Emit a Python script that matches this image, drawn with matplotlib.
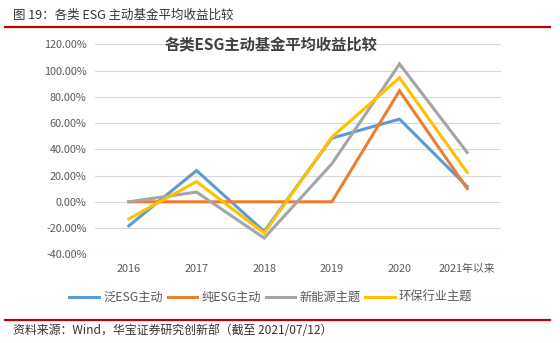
import matplotlib
matplotlib.use("Agg")
import matplotlib.pyplot as plt
from matplotlib.lines import Line2D

plt.rcParams['font.family'] = ['Noto Sans CJK SC', 'DejaVu Sans']

categories = ["2016", "2017", "2018", "2019", "2020", "2021年以来"]
series_names = ["泛ESG主动", "纯ESG主动", "新能源主题", "环保行业主题"]
fan_esg = [-18.3, 23.8, -22.6, 48.5, 63.0, 11.6]
chun_esg = [0.0, 0.0, 0.0, 0.0, 84.6, 10.1]
xin_nengyuan = [0.0, 7.4, -27.6, 28.9, 105.0, 37.6]
huanbao = [-13.0, 15.4, -23.8, 49.2, 94.5, 22.4]
yticks = [-40, -20, 0, 20, 40, 60, 80, 100, 120]

colors = ["#5B9BD5", "#ED7D31", "#A5A5A5", "#FFC000"]

W, H = 560, 343
fig = plt.figure(figsize=(W / 100, H / 100), dpi=100)
ax = fig.add_axes([95 / W, (H - 254.3) / H, (501 - 95) / W, (254.3 - 44.3) / H])

x = list(range(len(categories)))
for vals, name, c in zip([fan_esg, chun_esg, xin_nengyuan, huanbao], series_names, colors):
    ax.plot(x, vals, color=c, lw=2.2, label=name, solid_joinstyle='miter', zorder=3)

ax.set_xlim(-0.5, len(categories) - 0.5)
ax.set_ylim(-40, 120)
ax.set_yticks(yticks)
ax.set_yticklabels([f"{v:.2f}%" for v in yticks])
ax.set_xticks(x)
ax.set_xticklabels(categories)
ax.grid(axis='y', color='#D9D9D9', lw=0.8, zorder=0)
ax.set_axisbelow(True)
for s in ax.spines.values():
    s.set_visible(False)
ax.tick_params(axis='both', length=0, labelsize=7.8, labelcolor='#595959')
ax.tick_params(axis='y', pad=6)
ax.tick_params(axis='x', pad=7)

ax.text(0.5 * (163 + 379) / W, 1 - 45 / H, "各类ESG主动基金平均收益比较", transform=fig.transFigure,
        ha='center', va='center', fontsize=11, fontweight='bold', color='#404040')

leg = fig.legend(loc='center', bbox_to_anchor=(271 / W, 1 - 297.7 / H), ncol=4, frameon=False,
                 fontsize=8.8, handlelength=2.4, handletextpad=0.35, columnspacing=0.4,
                 borderpad=0, borderaxespad=0)
for t in leg.get_texts():
    t.set_color('#595959')

# header and footer
fig.text(13 / W, 1 - 15 / H, "图 19：各类 ESG 主动基金平均收益比较", fontsize=9, color='#333333',
         ha='left', va='center')
fig.add_artist(Line2D([5 / W, 550 / W], [1 - 27.3 / H, 1 - 27.3 / H], transform=fig.transFigure,
                      color='#C00000', lw=1.6))
fig.add_artist(Line2D([5 / W, 550 / W], [1 - 320 / H, 1 - 320 / H], transform=fig.transFigure,
                      color='#C00000', lw=1.6))
fig.text(13 / W, 1 - 330.5 / H, "资料来源：Wind，华宝证券研究创新部（截至 2021/07/12）", fontsize=8.6,
         color='#333333', ha='left', va='center')

fig.savefig("out.png", dpi=100)
